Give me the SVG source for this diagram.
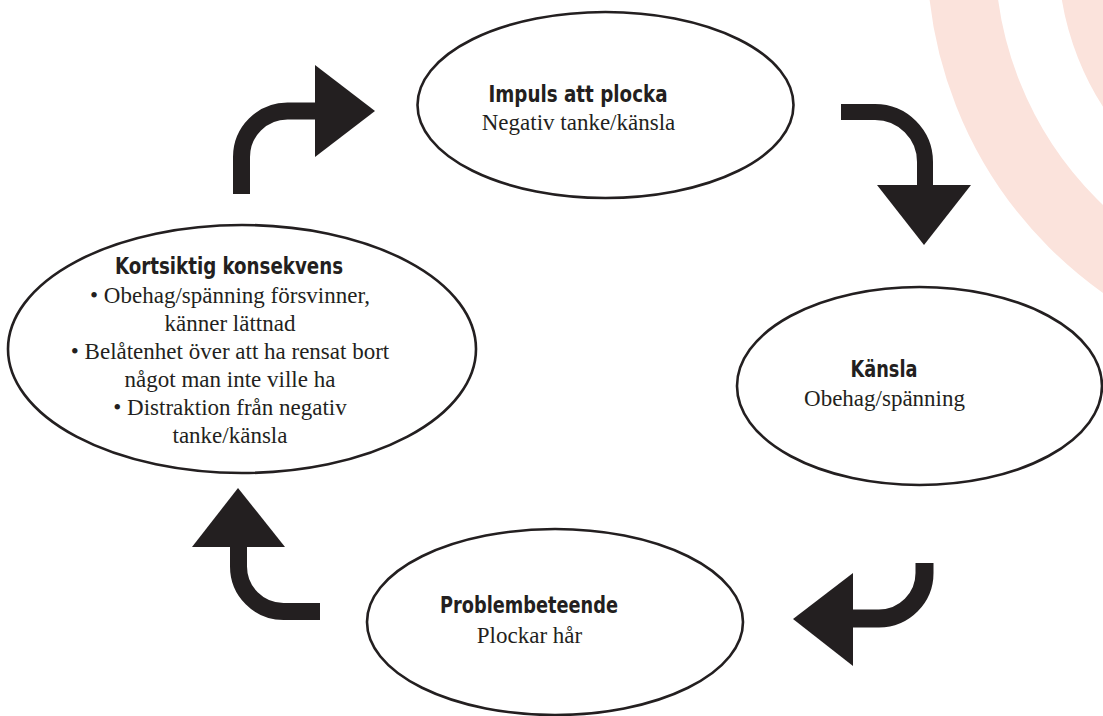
<svg xmlns="http://www.w3.org/2000/svg" width="1103" height="716" viewBox="0 0 1103 716">
  <defs>
    <style>
      .ring { fill: none; stroke: #fbe3dc; }
      .node ellipse { fill: #ffffff; stroke: #231f20; stroke-width: 2.6; }
      .title { font-family: 'Liberation Sans Narrow', 'DejaVu Sans Condensed', 'Liberation Sans', sans-serif; font-weight: bold; font-size: 23px; fill: #231f20; text-anchor: middle; }
      .body { font-family: 'Liberation Serif', 'DejaVu Serif', serif; font-size: 23px; fill: #231f20; text-anchor: middle; }
      .shaft { fill: none; stroke: #231f20; }
      .head { fill: #231f20; }
    </style>
  </defs>
  <rect width="1103" height="716" fill="#ffffff"/>
  <g id="background">
    <circle class="ring" cx="1343" cy="-47" r="382" stroke-width="68"/>
    <circle class="ring" cx="1343" cy="-47" r="250" stroke-width="70"/>
  </g>
  <g id="connectors">
    <path class="shaft" stroke-width="17" d="M241.5,194 V157 A46,46 0 0 1 287.5,111 H318"/>
    <polygon class="head" points="315,65 375,111 315,157"/>
    <path class="shaft" stroke-width="16" d="M841,112 H875 A50,50 0 0 1 925,162 V187"/>
    <polygon class="head" points="877,185 971,185 924,245"/>
    <path class="shaft" stroke-width="18" d="M924.5,563 V573 A45.5,45.5 0 0 1 879,618.5 H851"/>
    <polygon class="head" points="853,573 853,666 793,619"/>
    <path class="shaft" stroke-width="17" d="M320,611.5 H283.5 A45,45 0 0 1 238.5,566.5 V545"/>
    <polygon class="head" points="192,547 285,547 238,488"/>
  </g>
  <g id="node-impuls" class="node">
    <ellipse cx="605.5" cy="105" rx="188" ry="93"/>
    <text class="title" x="578" y="102" textLength="179" lengthAdjust="spacingAndGlyphs">Impuls att plocka</text>
    <text class="body" x="578.5" y="130">Negativ tanke/känsla</text>
  </g>
  <g id="node-kansla" class="node">
    <ellipse cx="919.5" cy="386" rx="182.5" ry="99"/>
    <text class="title" x="884" y="377" textLength="67" lengthAdjust="spacingAndGlyphs">Känsla</text>
    <text class="body" x="884.5" y="406">Obehag/spänning</text>
  </g>
  <g id="node-problem" class="node">
    <ellipse cx="555" cy="622" rx="188" ry="93"/>
    <text class="title" x="529" y="613" textLength="178" lengthAdjust="spacingAndGlyphs">Problembeteende</text>
    <text class="body" x="529.5" y="643">Plockar hår</text>
  </g>
  <g id="node-kortsiktig" class="node">
    <ellipse cx="242" cy="349" rx="234" ry="124"/>
    <text class="title" x="229" y="274" textLength="228" lengthAdjust="spacingAndGlyphs">Kortsiktig konsekvens</text>
    <text class="body" x="230" y="303">• Obehag/spänning försvinner,</text>
    <text class="body" x="230" y="331">känner lättnad</text>
    <text class="body" x="230" y="359">• Belåtenhet över att ha rensat bort</text>
    <text class="body" x="230" y="387">något man inte ville ha</text>
    <text class="body" x="230" y="415">• Distraktion från negativ</text>
    <text class="body" x="230" y="443">tanke/känsla</text>
  </g>
</svg>
